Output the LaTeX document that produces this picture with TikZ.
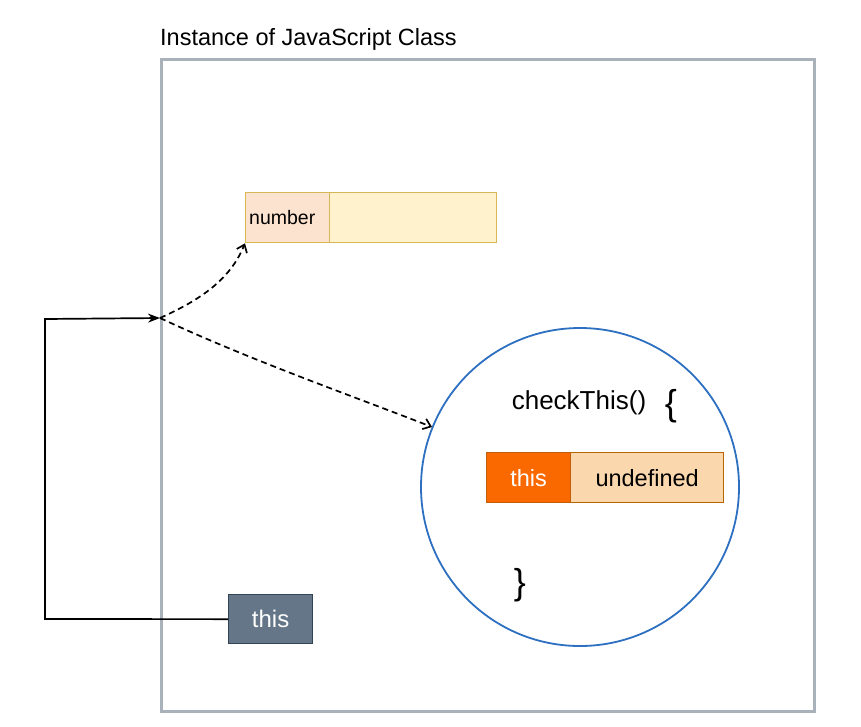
\documentclass[tikz,border=0pt]{standalone}
\usepackage{fontspec}
\setmainfont{Liberation Sans}
\usetikzlibrary{arrows.meta,calc}
\definecolor{framegray}{HTML}{A9B1BA}
\definecolor{peach}{HTML}{FCE3CF}
\definecolor{lightyellow}{HTML}{FFF2CC}
\definecolor{yellowborder}{HTML}{D6B656}
\definecolor{orangefill}{HTML}{FA6800}
\definecolor{orangeborder}{HTML}{C25D0A}
\definecolor{tanfill}{HTML}{FAD7AC}
\definecolor{tanborder}{HTML}{B46504}
\definecolor{slatefill}{HTML}{647687}
\definecolor{slateborder}{HTML}{314354}
\definecolor{circleblue}{HTML}{2D6FC0}
\tikzset{
  px/.style={x=1pt,y=-1pt},
  cell/.style={draw, line width=1.3pt, inner sep=0pt, anchor=north west},
  dasharrow/.style={dash pattern=on 6pt off 4pt, line width=1.7pt, -{Straight Barb[length=7pt,width=11pt,line width=1.7pt]}},
  solidarrow/.style={line width=1.7pt, -{Stealth[length=12pt,width=9pt]}}
}
\begin{document}
\begin{tikzpicture}[px]
\useasboundingbox (0,0) rectangle (861,726);
% outer frame
\node[draw=framegray, line width=3pt, minimum width=653pt, minimum height=652pt, inner sep=0pt, anchor=north west] (frame) at (160,58) {};
\node[anchor=south west, inner sep=0pt, font=\fontsize{23.5}{26}\selectfont] (title) at (160,51) {Instance of JavaScript Class};
% number box
\node[cell, draw=yellowborder, fill=lightyellow, minimum width=167pt, minimum height=50pt] (numval) at (329,192) {};
\node[cell, draw=yellowborder, fill=peach, minimum width=84pt, minimum height=50pt] (numkey) at (245,192) {};
\node[anchor=west, inner sep=0pt, font=\fontsize{19.5}{22}\selectfont] (numtext) at (249,218) {number};
% circle
\node[draw=circleblue, line width=1.8pt, circle, minimum size=318pt, inner sep=0pt] (method) at (580,487) {};
\node[font=\fontsize{26}{30}\selectfont, inner sep=0pt] (sig) at (579,403) {checkThis()};
\node[font=\fontsize{36}{40}\selectfont, inner sep=0pt] (obrace) at (671,406) {\{};
\node[font=\fontsize{36}{40}\selectfont, inner sep=0pt] (cbrace) at (520,585) {\}};
% this / undefined
\node[cell, draw=tanborder, fill=tanfill, minimum width=153pt, minimum height=50pt] (undef) at (570,452) {};
\node[font=\fontsize{23.5}{26}\selectfont, inner sep=0pt] at (undef.center) {undefined};
\node[cell, draw=orangeborder, fill=orangefill, minimum width=84pt, minimum height=50pt] (thiskey) at (486,452) {};
\node[font=\fontsize{23.5}{26}\selectfont, inner sep=0pt, text=white] at (thiskey.center) {this};
% this box
\node[cell, draw=slateborder, fill=slatefill, minimum width=84pt, minimum height=49pt] (thisbox) at (228,594) {};
\node[font=\fontsize{24}{26}\selectfont, inner sep=0pt, text=white] at (thisbox.center) {this};
% connectors
\coordinate (hub) at (160,318);
\coordinate (bend1) at (45,619);
\coordinate (bend2) at (45,319);
\draw[solidarrow] (thisbox.west) -- (bend1) -- (bend2) -- (hub);
\draw[dasharrow] (hub) .. controls (200,300) and (230,280) .. (numkey.south west);
\draw[dasharrow] (hub) .. controls (250,360) and (350,395) .. (432,427);
\end{tikzpicture}
\end{document}
